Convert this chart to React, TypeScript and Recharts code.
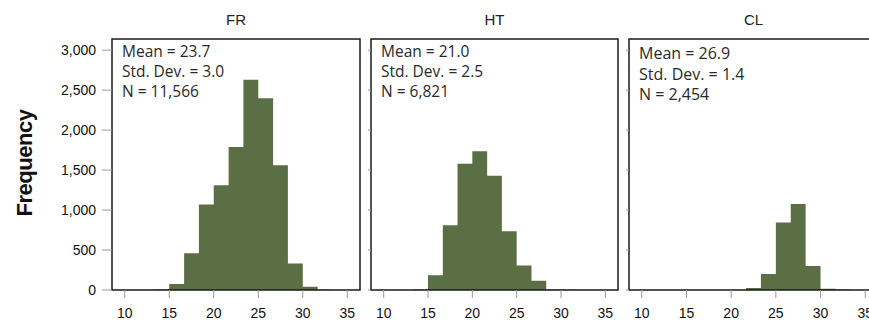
import React from 'react';
import { ComposedChart, Area, XAxis, YAxis, ReferenceArea } from 'recharts';

// histogram bins (left edges), width = 5/3
const binEdges = [13.33, 15, 16.67, 18.33, 20, 21.67, 23.33, 25, 26.67, 28.33, 30, 31.67, 33.33, 35];
const frCounts = [5, 75, 460, 1070, 1310, 1790, 2630, 2400, 1560, 330, 40, 3, 0, 0];
const htCounts = [5, 185, 810, 1580, 1735, 1430, 735, 305, 115, 5, 2, 0, 0, 0];
const clCounts = [0, 0, 0, 0, 0, 25, 200, 845, 1075, 300, 15, 5, 0, 0];

const xTicks = [10, 15, 20, 25, 30, 35];
const yTicks = [0, 500, 1000, 1500, 2000, 2500, 3000];
const xDomain = [8.57, 36.43];
const yDomain = [0, 3140];

const frStats = ['Mean = 23.7', 'Std. Dev. = 3.0', 'N = 11,566'];
const htStats = ['Mean = 21.0', 'Std. Dev. = 2.5', 'N = 6,821'];
const clStats = ['Mean = 26.9', 'Std. Dev. = 1.4', 'N = 2,454'];

const FILL = '#5a6f44';
const AXIS_FONT = 'Liberation Sans, Arial, sans-serif';
const STATS_FONT = '"Open Sans", Lato, sans-serif';

const toRows = (counts: number[]) => binEdges.map((edge, i) => ({ edge, count: counts[i] }));

interface PanelProps {
  title: string;
  counts: number[];
  stats: string[];
  left: number;
  width: number;
  yAxisWidth: number;
  showYLabels: boolean;
  statsTop: number;
  statsSize: number;
  statsLine: number;
}

const TOP = 39;
const BOTTOM = 30;

const Panel: React.FC<PanelProps> = ({
  title, counts, stats, left, width, yAxisWidth, showYLabels, statsTop, statsSize, statsLine,
}) => {
  const plotLeft = left + yAxisWidth;
  const plotWidth = width - yAxisWidth - 2;
  return (
    <>
      <div
        style={{
          position: 'absolute', left: plotLeft, top: 11, width: plotWidth, textAlign: 'center',
          fontFamily: AXIS_FONT, fontSize: 15, color: '#222', lineHeight: '18px',
        }}
      >
        {title}
      </div>
      <div style={{ position: 'absolute', left, top: 0 }}>
        <ComposedChart
          width={width}
          height={320}
          data={toRows(counts)}
          margin={{ top: TOP, right: 2, bottom: 0, left: 0 }}
        >
          <XAxis
            dataKey="edge"
            type="number"
            domain={xDomain}
            ticks={xTicks}
            allowDataOverflow
            axisLine={false}
            tickLine={{ stroke: '#999' }}
            tickSize={8}
            tickMargin={10}
            height={BOTTOM}
            tick={{ fontSize: 14, fill: '#111', fontFamily: AXIS_FONT }}
          />
          <YAxis
            type="number"
            domain={yDomain}
            ticks={yTicks}
            allowDataOverflow
            width={yAxisWidth}
            axisLine={false}
            tickLine={{ stroke: '#999' }}
            tickSize={showYLabels ? 10 : 3}
            tickMargin={6}
            tickFormatter={(v: number) => (showYLabels ? v.toLocaleString('en-US') : '')}
            tick={{ fontSize: 14, fill: '#111', fontFamily: AXIS_FONT }}
          />
          <Area
            type="stepAfter"
            dataKey="count"
            fill={FILL}
            fillOpacity={1}
            stroke="none"
            isAnimationActive={false}
          />
          <ReferenceArea
            x1={xDomain[0]}
            x2={xDomain[1]}
            y1={yDomain[0]}
            y2={yDomain[1]}
            fill="none"
            stroke="#1a1a1a"
            strokeWidth={1.5}
          />
        </ComposedChart>
      </div>
      <div
        style={{
          position: 'absolute', left: plotLeft + 10, top: statsTop, fontFamily: STATS_FONT,
          fontSize: statsSize, lineHeight: `${statsLine}px`, color: '#2a2a2a', whiteSpace: 'nowrap',
        }}
      >
        {stats.map((s) => (
          <div key={s}>{s}</div>
        ))}
      </div>
    </>
  );
};

const App: React.FC = () => (
  <div style={{ position: 'absolute', left: 0, top: 0, width: 869, height: 320, overflow: 'hidden', background: '#fff' }}>
    <div
      style={{
        position: 'absolute', left: 25, top: 163, transform: 'translate(-50%, -50%) rotate(-90deg)',
        fontFamily: AXIS_FONT, fontWeight: 'bold', fontSize: 22, letterSpacing: -0.5, color: '#111',
        whiteSpace: 'nowrap',
      }}
    >
      Frequency
    </div>
    <Panel title="FR" counts={frCounts} stats={frStats} left={0} width={362} yAxisWidth={112}
      showYLabels statsTop={41} statsSize={15.5} statsLine={20} />
    <Panel title="HT" counts={htCounts} stats={htStats} left={360} width={260} yAxisWidth={11}
      showYLabels={false} statsTop={41} statsSize={15.5} statsLine={20} />
    <Panel title="CL" counts={clCounts} stats={clStats} left={620} width={260} yAxisWidth={9}
      showYLabels={false} statsTop={43} statsSize={16} statsLine={20.7} />
  </div>
);

export default App;
